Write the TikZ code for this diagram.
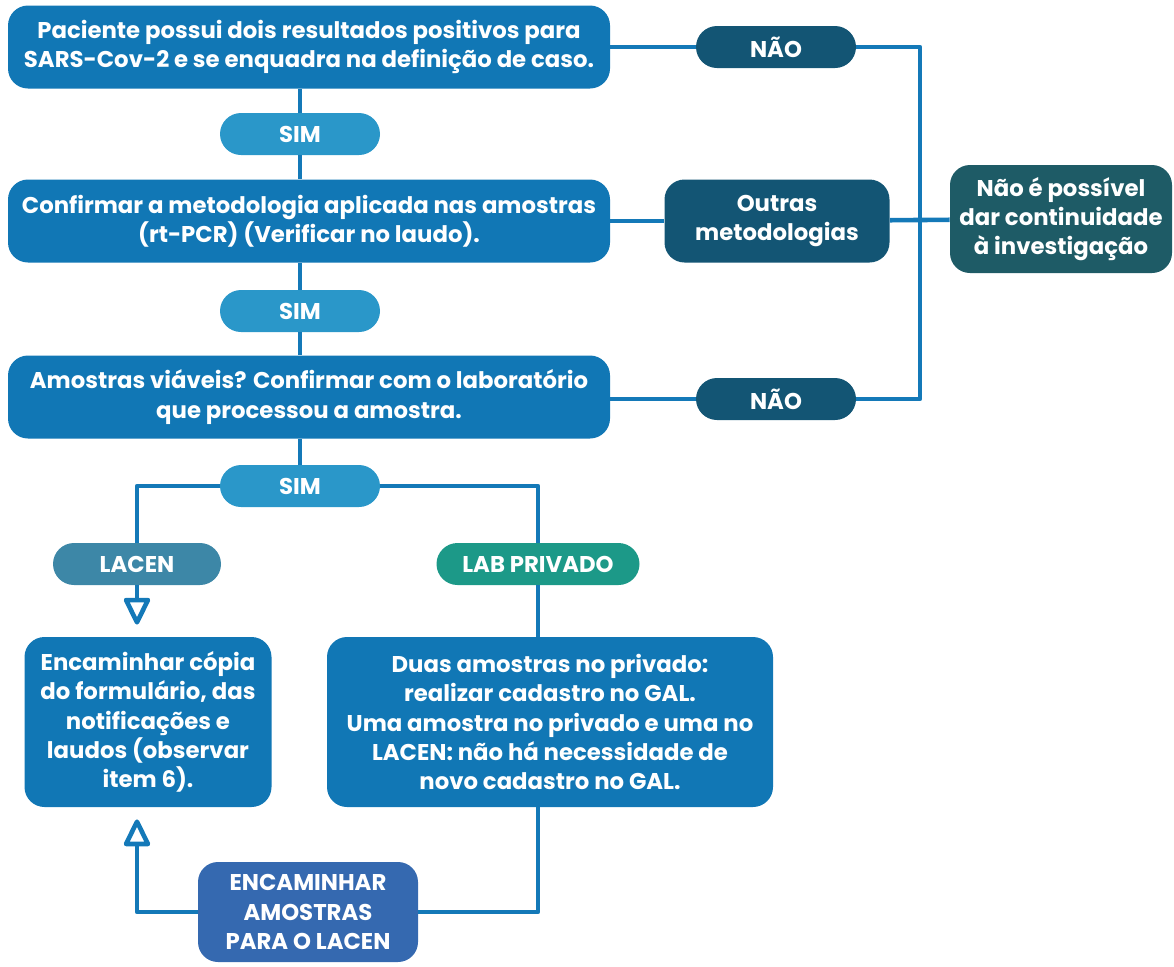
\documentclass[tikz,border=0pt]{standalone}
\usepackage{fontspec}
\setmainfont{Poppins}
\usetikzlibrary{arrows.meta}
\definecolor{azul}{HTML}{1177B5}
\definecolor{azulsim}{HTML}{2A97C9}
\definecolor{azulesc}{HTML}{135574}
\definecolor{verdesc}{HTML}{1E5B66}
\definecolor{azullacen}{HTML}{3D87A7}
\definecolor{verdelab}{HTML}{1C9988}
\definecolor{azulenc}{HTML}{3569B0}
\definecolor{linha}{HTML}{1479B8}
\begin{document}
\begin{tikzpicture}[x=0.5pt, y=-0.5pt,
    caixa/.style={rounded corners=10pt, fill=azul, text=white, align=center,
        font=\fontsize{11.4}{14.6}\selectfont\bfseries, inner sep=0pt},
    pilula/.style={rounded corners=10.5pt, text=white, minimum width=80pt,
        minimum height=21pt, font=\fontsize{11.4}{14.6}\selectfont\bfseries},
    conn/.style={draw=linha, line width=2.3pt, line join=round},
    seta/.style={conn, -{Triangle[open, length=15pt, width=14pt, line join=round]}}]
                \useasboundingbox (0,0) rectangle (1174,966);
                % Caixas principais
                \node[caixa, minimum width=301pt, minimum height=41.5pt] (b1) at (309, 47) {Paciente possui dois resultados positivos para\\SARS-Cov-2 e se enquadra na definição de caso.};
                \node[caixa, minimum width=301pt, minimum height=41.5pt] (b2) at (309, 221) {Confirmar a metodologia aplicada nas amostras\\(rt-PCR) (Verificar no laudo).};
                \node[caixa, minimum width=301pt, minimum height=41.5pt] (b3) at (309, 397) {Amostras viáveis? Confirmar com o laboratório\\que processou a amostra.};
                \node[caixa, minimum width=123.5pt, minimum height=85pt] (b4) at (148, 722) {Encaminhar cópia\\do formulário, das\\notificações e\\laudos (observar\\item 6).};
                \node[caixa, minimum width=223pt, minimum height=85pt] (b5) at (550, 722) {Duas amostras no privado:\\realizar cadastro no GAL.\\Uma amostra no privado e uma no\\LACEN: não há necessidade de\\novo cadastro no GAL.};
                \node[caixa, fill=azulesc, minimum width=112.5pt, minimum height=41.5pt] (out) at (777, 221) {Outras\\metodologias};
                \node[caixa, fill=verdesc, minimum width=111pt, minimum height=54pt] (fim) at (1061, 219) {Não é possível\\dar continuidade\\à investigação};
                \node[caixa, fill=azulenc, minimum width=110pt, minimum height=50pt] (enc) at (308, 912) {ENCAMINHAR\\AMOSTRAS\\PARA O LACEN};

                % Respostas
                \node[pilula, fill=azulsim] (sim1) at (300, 134) {SIM};
                \node[pilula, fill=azulsim] (sim2) at (300, 311) {SIM};
                \node[pilula, fill=azulsim] (sim3) at (300, 486) {SIM};
                \node[pilula, fill=azulesc] (nao1) at (776, 47) {NÃO};
                \node[pilula, fill=azulesc] (nao2) at (776, 399) {NÃO};
                \node[pilula, fill=azullacen, minimum width=84pt] (lacen) at (137, 564) {LACEN};
                \node[pilula, fill=verdelab, minimum width=101.5pt] (lab) at (538, 564) {LAB PRIVADO};
                \coordinate (jr) at (920, 221);

                % Ligações
                \draw[conn] (b1.south -| sim1) -- (sim1);
                \draw[conn] (sim1) -- (b2.north -| sim1);
                \draw[conn] (b2.south -| sim2) -- (sim2);
                \draw[conn] (sim2) -- (b3.north -| sim2);
                \draw[conn] (b3.south -| sim3) -- (sim3);
                \draw[conn] (b1) -- (nao1);
                \draw[conn] (b2) -- (out);
                \draw[conn] (b3.east |- nao2) -- (nao2);
                \draw[conn] (nao1) -| (jr) |- (nao2);
                \draw[conn] (out) -- (fim);
                \draw[conn] (sim3) -| (lacen);
                \draw[conn] (sim3) -| (lab);
                \draw[seta] (lacen) -- ([yshift=6pt]lacen |- b4.north);
                \draw[conn] (lab) -- (lab |- b5.north);
                \draw[conn] (b5.south -| lab) |- (enc);
                \draw[seta] (enc) -| ([yshift=-6pt]lacen |- b4.south);
\end{tikzpicture}
\end{document}
